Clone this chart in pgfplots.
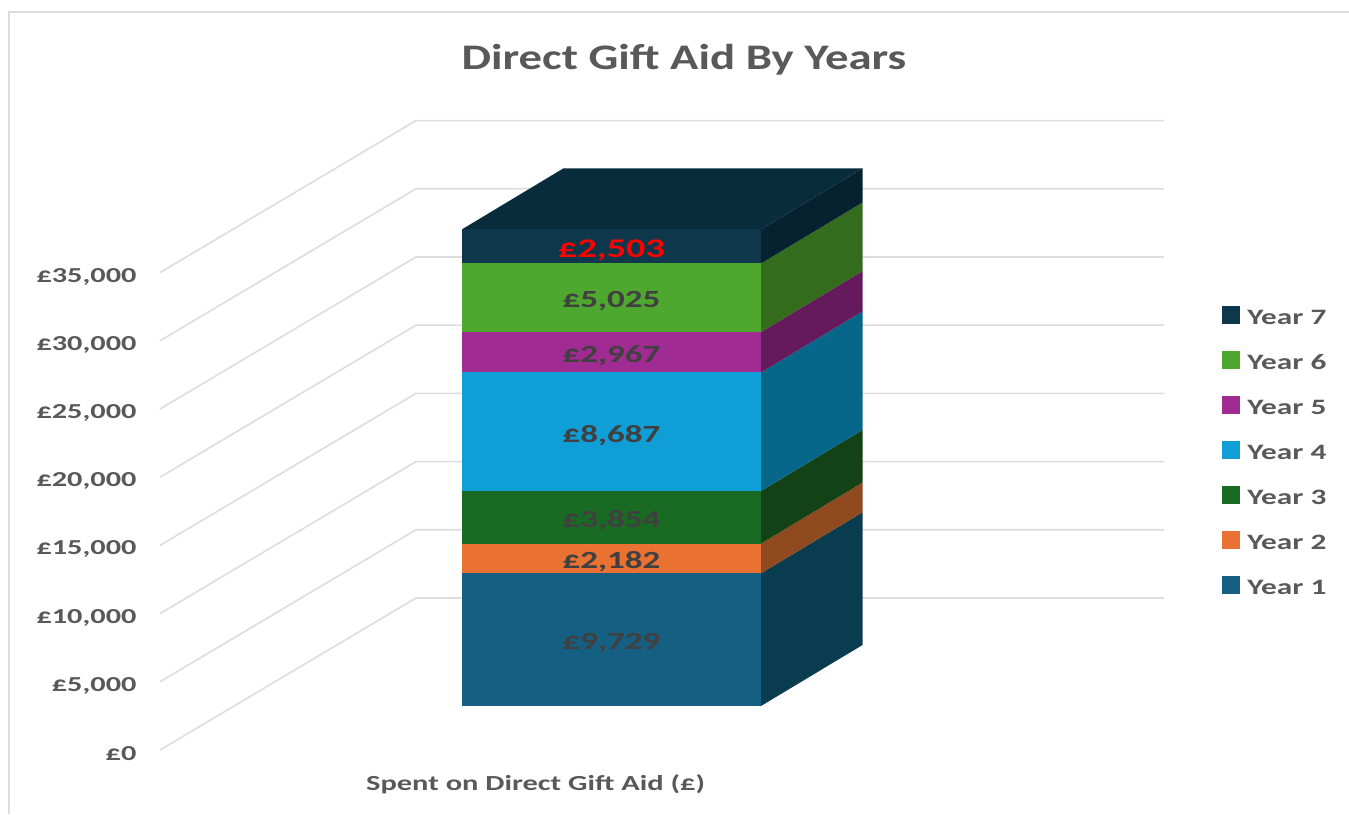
\documentclass[border=0pt]{standalone}
\usepackage{fontspec}
\usepackage{pgfplots}
\pgfplotsset{compat=1.18}
\setmainfont{Carlito}
\newfontfamily\titlef{Carlito}[FakeStretch=1.30]
\newfontfamily\labf{Carlito}[FakeStretch=1.42]

\definecolor{yA}{HTML}{156082}\definecolor{yAs}{HTML}{0A3C50}
\definecolor{yB}{HTML}{E97132}\definecolor{yBs}{HTML}{8F4A20}
\definecolor{yC}{HTML}{196B24}\definecolor{yCs}{HTML}{124215}
\definecolor{yD}{HTML}{0F9ED5}\definecolor{yDs}{HTML}{07678A}
\definecolor{yE}{HTML}{A02B93}\definecolor{yEs}{HTML}{651A5C}
\definecolor{yF}{HTML}{4EA72E}\definecolor{yFs}{HTML}{326C1C}
\definecolor{yG}{HTML}{0E374C}\definecolor{yGs}{HTML}{062230}
\definecolor{topc}{HTML}{082C3B}
\definecolor{gridc}{HTML}{DDDDDD}
\definecolor{txt}{HTML}{595959}
\definecolor{lab}{HTML}{404040}

% every axis fills the whole canvas, 1px = 0.75pt, x in pixels, y in pounds
\pgfplotsset{canvas/.style={
    at={(0,0)}, anchor=south west,
    width=1011.75pt, height=610.5pt, scale only axis,
    xmin=0, xmax=1349, clip=false,
}}

\begin{document}
\begin{tikzpicture}
    % back wall, gridlines, ticks, title
    \begin{axis}[canvas, ymin=-4692, ymax=54985,
        axis x line=none, axis y line=left,
        y axis line style={draw=none}, ytick style={draw=none},
        ytick={0,5000,...,35000}, scaled y ticks=false,
        /pgf/number format/assume math mode=true,
        /pgf/number format/fixed,
        /pgf/number format/1000 sep={,},
        yticklabel={£\pgfmathprintnumber{\tick}},
        yticklabel style={anchor=east, xshift=108pt, yshift=-3pt,
            font=\labf\fontsize{16pt}{18pt}\selectfont\bfseries, text=txt},
        title={Direct Gift Aid By Years},
        title style={at={(0.507,0.917)}, anchor=center,
            font=\titlef\fontsize{27pt}{30pt}\selectfont\bfseries, text=txt},
        ]
        \draw[gridc, line width=1.6pt] (rel axis cs:0.0067,0) -- (rel axis cs:0.0067,0.985) -- (rel axis cs:1,0.985);
        \addplot[gridc, line width=1.2pt] coordinates {(160,0) (416,11144) (1164,11144)};
        \addplot[gridc, line width=1.2pt] coordinates {(160,5000) (416,16144) (1164,16144)};
        \addplot[gridc, line width=1.2pt] coordinates {(160,10000) (416,21144) (1164,21144)};
        \addplot[gridc, line width=1.2pt] coordinates {(160,15000) (416,26144) (1164,26144)};
        \addplot[gridc, line width=1.2pt] coordinates {(160,20000) (416,31144) (1164,31144)};
        \addplot[gridc, line width=1.2pt] coordinates {(160,25000) (416,36144) (1164,36144)};
        \addplot[gridc, line width=1.2pt] coordinates {(160,30000) (416,41144) (1164,41144)};
        \addplot[gridc, line width=1.2pt] coordinates {(160,35000) (416,46144) (1164,46144)};
        \node[font=\labf\fontsize{16.1pt}{18pt}\selectfont\bfseries, text=txt] at (rel axis cs:0.397,0.037) {Spent on Direct Gift Aid (£)};
    \end{axis}
    % side and top faces of the bar
    \begin{axis}[canvas, ymin=-7918, ymax=51760, axis lines=none]
        \addplot[fill=yAs, draw=none] coordinates {(761,0) (862.5,4472) (862.5,14201) (761,9729)} -- cycle;
        \addplot[fill=yBs, draw=none] coordinates {(761,9729) (862.5,14201) (862.5,16383) (761,11911)} -- cycle;
        \addplot[fill=yCs, draw=none] coordinates {(761,11911) (862.5,16383) (862.5,20237) (761,15765)} -- cycle;
        \addplot[fill=yDs, draw=none] coordinates {(761,15765) (862.5,20237) (862.5,28924) (761,24452)} -- cycle;
        \addplot[fill=yEs, draw=none] coordinates {(761,24452) (862.5,28924) (862.5,31891) (761,27419)} -- cycle;
        \addplot[fill=yFs, draw=none] coordinates {(761,27419) (862.5,31891) (862.5,36916) (761,32444)} -- cycle;
        \addplot[fill=yGs, draw=none] coordinates {(761,32444) (862.5,36916) (862.5,39419) (761,34947)} -- cycle;
        \addplot[fill=topc, draw=none] coordinates {(462,34947) (563.5,39419) (862.5,39419) (761,34947)} -- cycle;
    \end{axis}
    % front faces, labels, legend
    \begin{axis}[canvas, ymin=-7918, ymax=51760, axis lines=none,
        ybar stacked, bar width=224.25pt,
        point meta=explicit,
        nodes near coords={£\pgfmathprintnumber[fixed,1000 sep={,},assume math mode=true]{\pgfplotspointmeta}},
        nodes near coords style={yshift=-2.75pt, font=\labf\fontsize{18.5pt}{21pt}\selectfont\bfseries, text=lab},
        legend style={at={(0.906,0.2695)}, anchor=south west, draw=none, fill=none,
            font=\labf\fontsize{16.5pt}{18pt}\selectfont\bfseries, text=txt,
            row sep=19.7pt, inner sep=0pt,
            nodes={inner sep=0pt, text height=10pt, text depth=0pt},
            /tikz/every odd column/.append style={column sep=5.25pt}},
        reverse legend, legend cell align=left,
        legend image code/.code={\path[#1] (0pt,-4.5pt) rectangle (13.5pt,9pt);},
        ]
        \addplot[fill=yA, draw=none] coordinates {(611.5,9729) [9729]};
        \addplot[fill=yB, draw=none] coordinates {(611.5,2182) [2182]};
        \addplot[fill=yC, draw=none] coordinates {(611.5,3854) [3854]};
        \addplot[fill=yD, draw=none] coordinates {(611.5,8687) [8687]};
        \addplot[fill=yE, draw=none] coordinates {(611.5,2967) [2967]};
        \addplot[fill=yF, draw=none] coordinates {(611.5,5025) [5025]};
        \addplot[fill=yG, draw=none, nodes near coords style={text=red, font=\labf\fontsize{20.2pt}{21pt}\selectfont\bfseries}] coordinates {(611.5,2503) [2503]};
        \legend{Year 1, Year 2, Year 3, Year 4, Year 5, Year 6, Year 7}
    \end{axis}
    \pgfresetboundingbox
    \path[use as bounding box] (0,0) rectangle (1011.75pt,610.5pt);
\end{tikzpicture}
\end{document}
